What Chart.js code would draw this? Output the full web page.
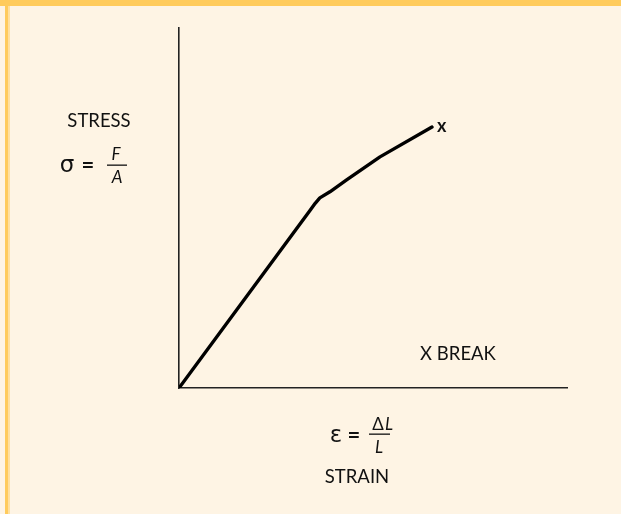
<!DOCTYPE html>
<html>
<head>
<meta charset="utf-8">
<script src="https://cdn.jsdelivr.net/npm/chart.js@4.4.0/dist/chart.umd.min.js"></script>
<style>
    html, body { margin: 0; padding: 0; }
    body { width: 621px; height: 514px; background: #fef4e4; position: relative; overflow: hidden; }
    .top-bar { position: absolute; left: 0; top: 0; width: 621px; height: 6px; background: #ffcb5c; }
    .left-bar { position: absolute; left: 5px; top: 0; width: 3px; height: 514px; background: #ffcb5c; }
    .left-bar2 { position: absolute; left: 8px; top: 6px; width: 2px; height: 508px; background: #ffe0a0; }
    #wrap { position: absolute; left: 0; top: 0; width: 621px; height: 514px; }
</style>
</head>
<body>
<div class="top-bar"></div>
<div class="left-bar"></div>
<div class="left-bar2"></div>
<div id="wrap"><canvas id="stress-chart" width="621" height="514"></canvas></div>
<script>
// stress-strain curve (arbitrary units)
const strain = [0, 3.38, 3.51, 3.63, 3.89, 4.32, 5.18, 6.52];
const stress = [0, 4.94, 5.13, 5.28, 5.45, 5.78, 6.42, 7.25];
const xMax = 10;
const yMax = 10;

const points = strain.map((s, i) => ({ x: s, y: stress[i] }));

// text labels drawn on top of the chart
const labelPlugin = {
    id: 'labels',
    afterDraw(chart) {
        const ctx = chart.ctx;
        const font = '"Lato", "DejaVu Sans", sans-serif';
        ctx.save();
        ctx.fillStyle = '#111';
        ctx.textBaseline = 'alphabetic';

        // break marker at the end of the curve
        const last = points[points.length - 1];
        const ex = chart.scales.x.getPixelForValue(last.x);
        const ey = chart.scales.y.getPixelForValue(last.y);
        ctx.font = 'bold 18px ' + font;
        ctx.textAlign = 'left';
        ctx.fillText('x', ex + 5, ey + 5);

        // y axis label
        ctx.font = '18.5px ' + font;
        ctx.textAlign = 'center';
        ctx.fillText('STRESS', 99, 127);
        ctx.font = '23px "DejaVu Sans", sans-serif';
        ctx.fillText('σ', 67, 172);
        ctx.font = 'bold 22px ' + font;
        ctx.fillText('=', 88, 173);
        ctx.font = 'italic 17px ' + font;
        ctx.fillText('F', 116, 160);
        ctx.fillText('A', 117, 183);
        ctx.fillRect(107, 164.5, 20, 1.3);

        // x axis label
        ctx.font = '23px "DejaVu Sans", sans-serif';
        ctx.fillText('ε', 336, 442);
        ctx.font = 'bold 22px ' + font;
        ctx.fillText('=', 354, 443);
        ctx.font = '17px ' + font;
        ctx.fillText('Δ', 378, 430);
        ctx.font = 'italic 17px ' + font;
        ctx.fillText('L', 389, 430);
        ctx.fillText('L', 379, 453);
        ctx.fillRect(369, 433.5, 21, 1.3);
        ctx.font = '18.5px ' + font;
        ctx.fillText('STRAIN', 357, 483);

        ctx.fillText('X BREAK', 458, 360);
        ctx.restore();
    }
};

new Chart(document.getElementById('stress-chart'), {
    type: 'scatter',
    data: {
        datasets: [{
            data: points,
            showLine: true,
            borderColor: '#000',
            borderWidth: 3.4,
            pointRadius: 0,
            tension: 0,
            borderCapStyle: 'round',
            borderJoinStyle: 'round'
        }]
    },
    options: {
        responsive: false,
        animation: false,
        layout: { padding: { left: 179, right: 54, top: 28, bottom: 126 } },
        scales: {
            x: {
                type: 'linear', min: 0, max: xMax,
                grid: { display: false, drawTicks: false },
                ticks: { display: false },
                border: { display: true, color: '#222', width: 1.6 }
            },
            y: {
                type: 'linear', min: 0, max: yMax,
                grid: { display: false, drawTicks: false },
                ticks: { display: false },
                border: { display: true, color: '#222', width: 1.6 }
            }
        },
        plugins: { legend: { display: false }, tooltip: { enabled: false } }
    },
    plugins: [labelPlugin]
});
</script>
</body>
</html>
